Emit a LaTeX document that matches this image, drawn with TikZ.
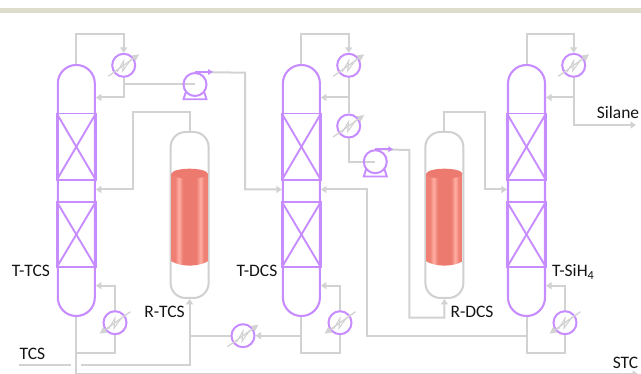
\documentclass[tikz,border=0pt]{standalone}
\usepackage{fontspec}
\setmainfont{Carlito}
\usetikzlibrary{arrows.meta}
\definecolor{pipegray}{HTML}{D2D2D2}
\definecolor{vesselpurple}{HTML}{C78CFF}
\definecolor{band}{HTML}{DEDCCB}
\definecolor{reacgray}{HTML}{D0D0D0}
\definecolor{labelink}{HTML}{141414}
\definecolor{redA}{HTML}{F08074}
\definecolor{redB}{HTML}{FFAEA3}
\definecolor{redC}{HTML}{EC7A6E}
\pgfdeclarehorizontalshading{catbed}{100bp}{
  color(0bp)=(redA); color(25bp)=(redA); color(30bp)=(redA); color(35bp)=(redB); color(41bp)=(redC);
  color(59bp)=(redC); color(65bp)=(redB); color(70bp)=(redA); color(75bp)=(redA); color(100bp)=(redA)}
\tikzset{
  pipe/.style={draw=pipegray,line width=2pt},
  flow/.style={pipe,-{Triangle[length=5.5pt,width=7pt,fill=pipegray]}},
  column/.style={draw=vesselpurple,line width=2.1pt,minimum width=37pt,minimum height=251pt,
    inner sep=0pt,rounded corners=18.4pt,shape=rectangle},
  reactor/.style={draw=reacgray,line width=2pt,minimum width=38pt,minimum height=166pt,
    inner sep=0pt,rounded corners=15pt,shape=rectangle},
  exch/.style={circle,draw=vesselpurple,line width=2pt,minimum size=23pt,inner sep=0pt},
  pump/.style={circle,draw=vesselpurple,line width=2pt,minimum size=23pt,inner sep=0pt},
  packing/.style={draw=vesselpurple,line width=1.9pt},
  lab/.style={font=\fontsize{17.5}{20}\selectfont,text=labelink,inner sep=0pt},
  diag/.style={draw=pipegray,line width=1.3pt},
}
\newcommand{\hxzig}[1]{
  \draw[draw=pipegray,line width=1.1pt] ([shift={(-6.5,6.5)}]#1.center) -- ([shift={(0,-4.5)}]#1.center)
    -- ([shift={(-1,5.5)}]#1.center) -- ([shift={(7,-5.5)}]#1.center);}
\newcommand{\hxup}[1]{
  \draw[diag,-{Triangle[length=7pt,width=6.5pt,fill=pipegray]}] ([shift={(-15.5,11)}]#1.center) -- ([shift={(15.5,-11)}]#1.center);
  \hxzig{#1}}
\newcommand{\hxdown}[1]{
  \draw[diag,-{Triangle[length=7pt,width=6.5pt,fill=pipegray]}] ([shift={(15.5,-11)}]#1.center) -- ([shift={(-15.5,11)}]#1.center);
  \hxzig{#1}}
\newcommand{\packs}[1]{
  \foreach \ya/\yb in {113.5/180,201.7/267.3}{
    \draw[packing] (#1.west |- 0,\ya) rectangle (#1.east |- 0,\yb);
    \draw[packing] (#1.west |- 0,\ya) -- (#1.east |- 0,\yb);
    \draw[packing] (#1.east |- 0,\ya) -- (#1.west |- 0,\yb);
  }}
\newcommand{\bed}[1]{
  \begin{scope}
    \clip ([xshift=-18pt]#1 |- 0,173.5) -- ([xshift=-18pt]#1 |- 0,261.5)
       .. controls ([xshift=-8pt]#1 |- 0,267) and ([xshift=8pt]#1 |- 0,267) .. ([xshift=18pt]#1 |- 0,261.5)
       -- ([xshift=18pt]#1 |- 0,173.5) -- cycle;
    \shade[shading=catbed] ([xshift=-18pt]#1 |- 0,165) rectangle ([xshift=18pt]#1 |- 0,270);
  \end{scope}
  \fill[redC] (#1 |- 0,173.7) ellipse [x radius=18pt,y radius=5pt];}
\begin{document}
\begin{tikzpicture}[x=1pt,y=-1pt]
\useasboundingbox (0,0) rectangle (641,374);
\fill[band] (0,8) rectangle (641,13);

\path
  node[column,draw=none] (c1) at (76.3,190.5) {}
  node[column,draw=none] (c2) at (301.4,190.5) {}
  node[column,draw=none] (c3) at (526.5,190.5) {}
  node[reactor,draw=none] (r1) at (189.6,215) {}
  node[reactor,draw=none] (r2) at (444.4,215) {};
\node[exch,draw=none] (h1) at (123.7,65.3) {};
\node[exch,draw=none] (h2) at (348.7,65.3) {};
\node[exch,draw=none] (h3) at (348.7,126) {};
\node[exch,draw=none] (h4) at (573.7,65.3) {};
\node[exch,draw=none] (b1) at (115,322.7) {};
\node[exch,draw=none] (b2) at (340,322.7) {};
\node[exch,draw=none] (b3) at (565,322.7) {};
\node[exch,draw=none] (h5) at (243,335.7) {};
\node[pump,draw=none] (p1) at (195,84.5) {};
\node[pump,draw=none] (p2) at (375.3,161.7) {};

\coordinate (silane) at (636,125);
\coordinate (stc) at (638,374);
\coordinate (tcsA) at (18.7,365.3);
\coordinate (tcsB) at (71,365.3);
\coordinate (tcsC) at (81,365.3);
\coordinate (bot1) at (76.3,374);

% column 1
\draw[flow] (c1.north) |- (100,34) -| (h1.north);
\draw[flow] (h1.south) |- (c1.east |- 0,97.5);
\draw[pipe] (h1.south |- p1.center) -- (p1.center);
\draw[pipe] (c1.south) -- (bot1);
\draw[pipe] (c1.south |- 0,353.3) -| (b1.south);
\draw[flow] (b1.north) |- (c1.east |- 0,285.7);
\draw[flow] (r1.north) |- (132.7,112.3) |- (c1.east |- 0,189.5);
% feed
\draw[pipe] (tcsA) -- (tcsB);
\draw[flow] (tcsC) -| (r1.south);
\draw[pipe] (r1.south |- h5.center) -- (h5.west);
% pump 1 outlet
\draw[flow] (p1.north) -- (245,72.7) |- (c2.west |- 0,189.5);
% column 2
\draw[flow] (c2.north) |- (325,34) -| (h2.north);
\draw[flow] (h2.south) |- (c2.east |- 0,97.5);
\draw[pipe] (h2.south) -- (h3.north);
\draw[pipe] (h3.south) |- (p2.center);
\draw[flow] (p2.north) -- (409.3,150) |- (444.4,317.7) -- (r2.south);
\draw[flow] (r2.north) |- (485.3,112.3) |- (c3.west |- 0,189.5);
\draw[pipe] (c2.south) |- (b2.south |- 0,353.3) -- (b2.south);
\draw[flow] (b2.north) |- (c2.east |- 0,285.7);
\draw[flow] (c2.south |- h5.center) -- (h5.east);
\draw[flow] (c3.south |- h5.center) -| (366.7,189.5) -- (c2.east |- 0,189.5);
% column 3
\draw[flow] (c3.north) |- (550,34) -| (h4.north);
\draw[flow] (h4.south) |- (c3.east |- 0,97.5);
\draw[flow] (h4.south) |- (silane);
\draw[pipe] (c3.south) |- (b3.south |- 0,353.3) -- (b3.south);
\draw[flow] (b3.north) |- (c3.east |- 0,285.7);
% bottom line
\draw[flow] (c1.south |- stc) -- (stc);

% reactors
\node[reactor] at (r1) {};
\node[reactor] at (r2) {};
\bed{r1.center}
\bed{r2.center}

% columns
\node[column] at (c1) {};
\node[column] at (c2) {};
\node[column] at (c3) {};
\packs{c1}\packs{c2}\packs{c3}

% exchangers
\foreach \h in {h1,h2,h3,h4,h5}{\node[exch] at (\h) {}; \hxup{\h}}
\foreach \h in {b1,b2,b3}{\node[exch] at (\h) {}; \hxdown{\h}}

% pumps
\foreach \p in {p1,p2}{
  \node[pump] at (\p) {};
  \draw[packing,-{Triangle[length=5pt,width=5.5pt,fill=vesselpurple]}] (\p.north) -- ++(18,0);
  \draw[packing] ([shift={(-9,7)}]\p.center) -- ([shift={(-11.5,14.8)}]\p.center)
     -- ([shift={(11.5,14.8)}]\p.center) -- ([shift={(9,7)}]\p.center);
}

% labels
\node[lab] (lt1) at (31,271) {T-TCS};
\node[lab] (lt2) at (257,271) {T-DCS};
\node[lab,anchor=base west] (lt3) at (552,276.5) {T-SiH\textsubscript{4}};
\node[lab] (lr1) at (164.5,312) {R-TCS};
\node[lab] (lr2) at (472,312) {R-DCS};
\node[lab] (ltcs) at (32.5,354) {TCS};
\node[lab] (lsi) at (618,112) {Silane};
\node[lab] (lstc) at (625.5,363) {STC};
\end{tikzpicture}
\end{document}
